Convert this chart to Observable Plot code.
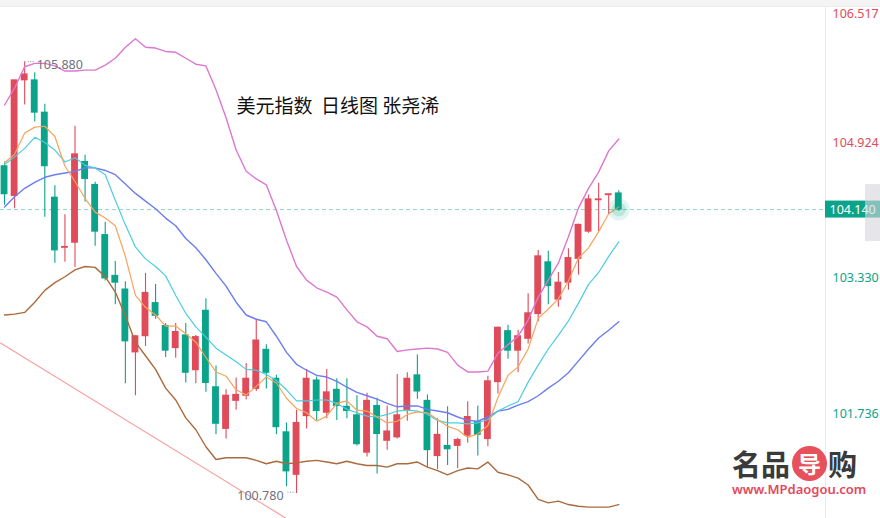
<!DOCTYPE html>
<html><head><meta charset="utf-8">
<script src="https://cdn.jsdelivr.net/npm/d3@7"></script>
<script src="https://cdn.jsdelivr.net/npm/@observablehq/plot@0.6"></script>
<style>
html,body{margin:0;padding:0;background:#fff;}
#chart{position:relative;width:880px;height:518px;background:
 linear-gradient(#f4f4f4,#f4f4f4) 0 0/100% 6px no-repeat,
 linear-gradient(#ececec,#ececec) 0 6px/100% 1px no-repeat,
 linear-gradient(#ececec,#ececec) 825px 6px/1px 100% no-repeat,#fff;}
#chart svg{display:block;}
#wm{position:absolute;left:732px;top:444px;width:128px;font-family:'Noto Sans CJK SC',sans-serif;pointer-events:none;}
#wm .row{display:flex;align-items:center;height:38px;}
#wm .ch{font-size:29px;font-weight:700;color:#3a3a3a;line-height:38px;}
#wm .circ{width:35px;height:35px;border-radius:50%;background:#e8505b;color:#fff;font-size:23px;font-weight:700;
  display:flex;align-items:center;justify-content:center;margin:0 1px 0 2px;line-height:35px;}
#wm .url{position:absolute;left:0;top:482px;}
#url{position:absolute;left:732px;top:482px;width:128px;text-align:center;font-family:'Noto Sans',sans-serif;
  font-size:13px;font-weight:600;line-height:14px;color:#e5485a;}
</style></head><body><div id="chart"></div>
<script>
// Daily candles (Chinese convention: red = up, green = down)
const open  = [104.65,104.30,105.66,105.66,105.28,104.28,103.69,103.75,104.70,104.43,
               103.84,103.36,103.20,102.46,102.65,103.04,102.77,102.51,102.66,102.25,
               102.95,102.05,101.56,101.89,101.95,102.03,102.49,102.15,101.52,101.02,
               101.71,102.13,101.75,102.02,101.82,101.72,101.28,101.83,101.42,101.46,
               101.77,102.19,101.89,101.24,101.36,101.36,101.48,101.64,101.44,102.11,
               102.71,102.48,102.62,102.91,103.52,103.08,103.28,103.56,103.88,104.25,
               104.31,104.33];
const high  = [104.70,105.66,105.88,105.75,105.38,104.42,104.08,105.12,104.78,104.46,
               103.99,103.53,103.29,102.66,103.39,103.26,102.80,102.80,102.80,102.66,
               103.09,102.30,102.02,102.16,102.33,102.85,102.55,102.19,101.63,101.78,
               102.26,102.17,102.26,102.15,102.15,101.95,101.98,101.92,101.83,102.20,
               102.22,102.43,101.96,101.68,101.82,101.45,101.88,101.83,102.18,102.76,
               102.78,102.72,103.15,103.66,103.65,103.40,103.68,103.97,104.31,104.45,
               104.32,104.36];
const low   = [104.19,104.15,105.37,105.17,104.05,103.51,103.52,103.46,104.23,103.71,
               103.30,103.02,102.09,101.95,102.53,102.85,102.40,102.39,102.10,102.09,
               101.99,101.49,101.44,101.78,101.90,102.00,102.03,101.49,100.88,100.80,
               101.56,101.66,101.68,101.66,101.68,101.36,101.23,101.03,101.31,101.44,
               101.65,101.91,101.11,101.08,101.13,101.09,101.39,101.24,101.35,101.97,
               102.38,102.22,102.56,102.82,103.02,102.99,103.19,103.37,103.86,103.88,
               104.08,104.12];
const close = [104.32,105.66,105.73,105.28,104.65,103.66,103.70,104.79,104.50,103.88,
               103.33,103.28,102.59,102.65,103.16,102.89,102.48,102.70,102.22,102.64,
               102.10,101.62,101.95,101.96,102.15,102.60,102.22,101.58,101.06,101.63,
               102.15,101.77,101.99,101.83,101.77,101.38,101.89,101.50,101.53,101.72,
               102.15,102.00,101.31,101.49,101.32,101.43,101.70,101.49,102.12,102.75,
               102.48,102.65,102.92,103.59,103.24,103.28,103.57,103.96,104.26,104.26,
               104.32,104.14];
// Moving averages and Bollinger bands
const ma5   = [104.69,104.79,105.04,105.11,105.12,105.00,104.65,104.47,104.27,104.11,
               104.04,103.95,103.59,103.13,102.99,102.90,102.77,102.77,102.68,102.58,
               102.40,102.23,102.18,102.02,101.96,102.06,102.17,102.10,101.92,101.80,
               101.75,101.65,101.71,101.86,101.89,101.78,101.77,101.70,101.63,101.65,
               101.73,101.76,101.75,101.67,101.59,101.55,101.46,101.50,101.60,101.93,
               102.19,102.29,102.50,102.86,102.97,103.09,103.30,103.57,103.69,103.88,
               104.09,104.17];
const ma10  = [104.67,104.76,104.86,104.99,104.93,104.84,104.70,104.75,104.66,104.63,
               104.55,104.25,103.96,103.70,103.56,103.47,103.36,103.13,102.92,102.76,
               102.64,102.51,102.43,102.35,102.26,102.25,102.20,102.13,102.02,101.89,
               101.89,101.90,101.90,101.86,101.79,101.75,101.71,101.70,101.73,101.77,
               101.78,101.77,101.73,101.66,101.63,101.63,101.62,101.63,101.67,101.77,
               101.83,101.88,102.11,102.31,102.50,102.66,102.83,103.04,103.26,103.40,
               103.59,103.76];
const ma20  = [104.17,104.29,104.39,104.46,104.52,104.55,104.57,104.59,104.63,104.63,
               104.60,104.55,104.44,104.33,104.24,104.15,104.04,103.95,103.80,103.69,
               103.55,103.39,103.24,103.05,102.90,102.85,102.82,102.65,102.46,102.32,
               102.25,102.19,102.17,102.12,102.05,101.99,101.95,101.91,101.86,101.82,
               101.83,101.83,101.79,101.77,101.75,101.70,101.66,101.65,101.70,101.77,
               101.79,101.84,101.88,101.95,102.04,102.12,102.22,102.36,102.50,102.63,
               102.72,102.82];
const bollUp = [105.37,105.57,105.82,105.86,105.86,105.83,105.77,105.77,105.78,105.78,
               105.84,105.92,106.05,106.15,106.05,106.04,106.00,105.99,105.92,105.85,
               105.83,105.55,105.22,104.84,104.59,104.50,104.43,104.13,103.78,103.47,
               103.31,103.22,103.17,103.11,102.96,102.82,102.76,102.65,102.62,102.47,
               102.49,102.50,102.51,102.50,102.46,102.31,102.23,102.23,102.24,102.45,
               102.55,102.65,102.84,103.11,103.31,103.51,103.82,104.16,104.39,104.58,
               104.83,104.97];
const bollDn = [102.90,102.91,102.93,103.05,103.19,103.28,103.35,103.43,103.47,103.46,
               103.35,103.17,102.89,102.58,102.42,102.26,102.04,101.90,101.69,101.55,
               101.35,101.20,101.22,101.22,101.22,101.19,101.15,101.18,101.15,101.16,
               101.18,101.19,101.17,101.15,101.18,101.15,101.13,101.13,101.11,101.15,
               101.15,101.17,101.11,101.07,101.02,101.07,101.10,101.09,101.17,101.05,
               101.02,100.98,100.90,100.73,100.69,100.71,100.67,100.65,100.64,100.64,
               100.64,100.67];
// Drawn trend line (bar index, price)
const trendIdx = [-0.4, 30];
const trendVal = [102.57, 100.36];
// Axis ticks and annotations
const axisTicks = [106.517, 104.924, 103.330, 101.736];
const lastPrice = 104.140;
const hiMark = {i: 2, v: 105.880};
const loMark = {i: 29, v: 100.780};
const title = "美元指数  日线图 张尧浠";
const logoLeft = "名品", logoMid = "导", logoRight = "购", site = "www.MPdaogou.com";

const RED = "#e04b5a", GREEN = "#0ba48a";
const n = close.length;
const candles = d3.range(n).map(i => ({i, o: open[i], h: high[i], l: low[i], c: close[i],
  col: close[i] >= open[i] ? RED : GREEN}));
const series = arr => arr.map((v, i) => ({i, v}));
const trend = trendIdx.map((i, k) => ({i, v: trendVal[k]}));
const num = "'Noto Sans', 'DejaVu Sans', sans-serif";
const cjk = "'Noto Sans CJK SC', sans-serif";

const chart = Plot.plot({
  width: 880, height: 518,
  marginLeft: 0, marginRight: 55, marginTop: 7, marginBottom: 0,
  x: {type: "linear", domain: [-0.4, 81.53], axis: null},
  y: {domain: [100.506, 106.517], axis: null},
  color: {type: "identity"},
  style: {background: "transparent", fontFamily: num},
  marks: [
    Plot.ruleY([lastPrice], {stroke: "#8fd5c5", strokeDasharray: "4,3"}),
    Plot.line(trend, {x: "i", y: "v", stroke: "#f7a0a0", strokeWidth: 1.2, clip: true}),
    Plot.ruleX(candles, {x: "i", y1: "l", y2: "h", stroke: "col", strokeWidth: 1.1}),
    Plot.rect(candles, {x1: d => d.i - 0.34, x2: d => d.i + 0.34, y1: "o", y2: "c",
      fill: "col", insetTop: -0.5, insetBottom: -0.5}),
    Plot.line(series(bollUp), {x: "i", y: "v", stroke: "#dd78d0", strokeWidth: 1.4}),
    Plot.line(series(bollDn), {x: "i", y: "v", stroke: "#ab6a3c", strokeWidth: 1.4}),
    Plot.line(series(ma20), {x: "i", y: "v", stroke: "#6c7df0", strokeWidth: 1.4}),
    Plot.line(series(ma10), {x: "i", y: "v", stroke: "#4ccde0", strokeWidth: 1.2}),
    Plot.line(series(ma5), {x: "i", y: "v", stroke: "#f7a45c", strokeWidth: 1.2}),
    Plot.dot([{i: n - 1, v: lastPrice}], {x: "i", y: "v", r: 11, fill: GREEN, fillOpacity: 0.12}),
    Plot.dot([{i: n - 1, v: lastPrice}], {x: "i", y: "v", r: 7, fill: GREEN, fillOpacity: 0.18}),
    // high / low annotations
    Plot.link([hiMark], {x1: d => d.i + 0.3, x2: d => d.i + 0.9, y1: "v", y2: "v",
      stroke: "#8a8e99", strokeDasharray: "1,1.5"}),
    Plot.text([hiMark], {x: "i", y: "v", text: d => d.v.toFixed(3), dx: 12, dy: 3,
      textAnchor: "start", fill: "#6e7280", fontSize: 12.5}),
    Plot.link([loMark], {x1: d => d.i - 0.9, x2: d => d.i - 0.3, y1: "v", y2: "v",
      dy: -3, stroke: "#8a8e99", strokeDasharray: "1,1.5"}),
    Plot.text([loMark], {x: "i", y: "v", text: d => d.v.toFixed(3), dx: -13, dy: 1,
      textAnchor: "end", fill: "#6e7280", fontSize: 12.5}),
    // right price axis
    Plot.text([axisTicks[0]], {y: d => d, text: d => d.toFixed(3), frameAnchor: "right",
      dx: 7, dy: 2, lineAnchor: "top", textAnchor: "start", fill: RED, fontSize: 12.5}),
    Plot.text(axisTicks.slice(1), {y: d => d, text: d => d.toFixed(3), frameAnchor: "right",
      dx: 7, textAnchor: "start", fill: d => d > lastPrice ? RED : GREEN, fontSize: 12.5}),
    Plot.rect([lastPrice], {y1: d => d, y2: d => d, insetLeft: 825, insetRight: -55,
      insetTop: -8.5, insetBottom: -8.5, fill: GREEN}),
    Plot.text([lastPrice], {y: d => d, text: d => d.toFixed(3), frameAnchor: "right",
      dx: 4, textAnchor: "start", fill: "white", fontSize: 12.5}),
    Plot.rect([lastPrice], {y1: d => d, y2: d => d, insetLeft: 865, insetRight: -55,
      insetTop: -25, insetBottom: -32, fill: "#d6d6dc", fillOpacity: 0.6}),
    // title
    Plot.text([title], {text: d => d, frameAnchor: "top-left", dx: 236, dy: 92,
      textAnchor: "start", fontFamily: cjk, fontSize: 19, fill: "#111"})
  ]
});
const host = document.getElementById("chart");
host.appendChild(chart);
// watermark logo
const wm = document.createElement("div");
wm.id = "wm";
wm.innerHTML = `<div class="row"><span class="ch">${logoLeft}</span><span class="circ">${logoMid}</span><span class="ch">${logoRight}</span></div>`;
host.appendChild(wm);
const url = document.createElement("div");
url.id = "url";
url.textContent = site;
host.appendChild(url);
</script></body></html>
